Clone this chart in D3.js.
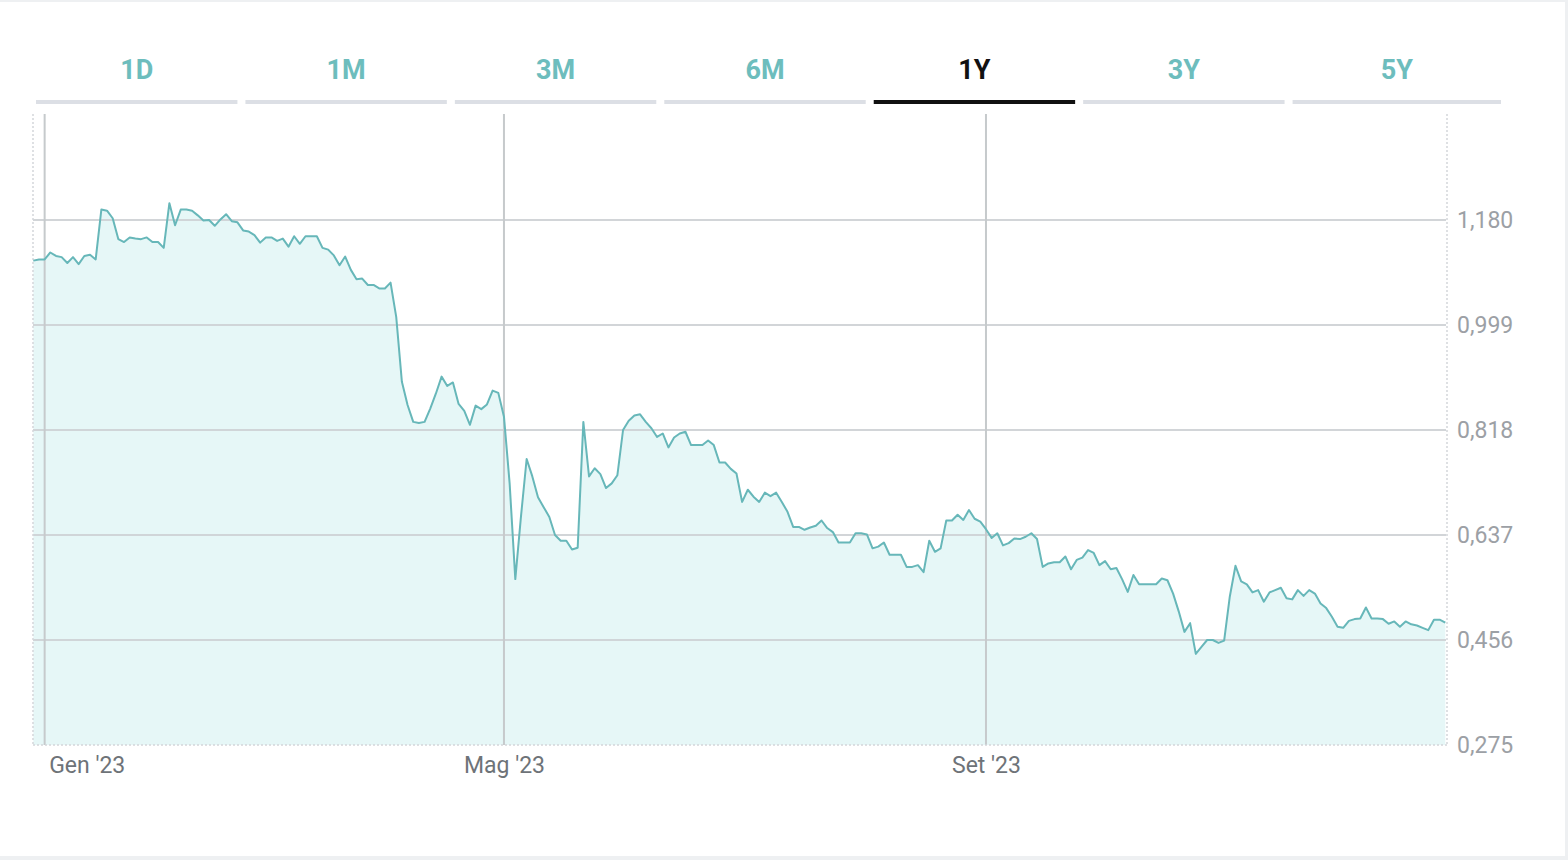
<!DOCTYPE html>
<html>
<head>
<meta charset="utf-8">
<title>1Y chart</title>
<script src="https://cdn.jsdelivr.net/npm/d3@7"></script>
<style>
  html, body { margin: 0; padding: 0; background: #eef0f2; }
  svg { display: block; }
  .tab-label { font-family: Roboto, "DejaVu Sans Condensed", sans-serif; font-weight: 700; font-size: 27px; }
  .y-axis text { font-family: Roboto, "DejaVu Sans Condensed", sans-serif; font-size: 23px; fill: #9ca0a5; }
  .x-axis text { font-family: Roboto, "DejaVu Sans Condensed", sans-serif; font-size: 23px; fill: #6e7378; }
</style>
</head>
<body>
<script>
  var w = 1568, h = 860;

  // tabs
  var tabs = ["1D", "1M", "3M", "6M", "1Y", "3Y", "5Y"];
  var activeTab = "1Y";

  // daily closes, one per trading day
  var values = [
    1.110, 1.112, 1.112, 1.124, 1.118, 1.116, 1.106, 1.116, 1.104, 1.118,
    1.120, 1.112, 1.198, 1.196, 1.183, 1.147, 1.142, 1.150, 1.148, 1.147,
    1.150, 1.142, 1.142, 1.132, 1.209, 1.171, 1.198, 1.198, 1.196, 1.188,
    1.179, 1.180, 1.170, 1.181, 1.190, 1.178, 1.176, 1.162, 1.160, 1.154,
    1.141, 1.150, 1.150, 1.144, 1.148, 1.134, 1.152, 1.139, 1.152, 1.152,
    1.152, 1.132, 1.129, 1.119, 1.102, 1.117, 1.094, 1.078, 1.079, 1.068,
    1.068, 1.062, 1.062, 1.072, 1.013, 0.901, 0.861, 0.832, 0.830, 0.832,
    0.855, 0.881, 0.910, 0.894, 0.900, 0.863, 0.851, 0.827, 0.860, 0.854,
    0.862, 0.886, 0.882, 0.841, 0.726, 0.561, 0.669, 0.768, 0.738, 0.702,
    0.685, 0.668, 0.637, 0.627, 0.627, 0.612, 0.615, 0.832, 0.738, 0.752,
    0.742, 0.718, 0.726, 0.740, 0.818, 0.834, 0.843, 0.845, 0.832, 0.821,
    0.806, 0.812, 0.788, 0.805, 0.812, 0.815, 0.792, 0.792, 0.792, 0.800,
    0.792, 0.762, 0.762, 0.751, 0.743, 0.694, 0.715, 0.703, 0.694, 0.710,
    0.704, 0.710, 0.694, 0.677, 0.651, 0.651, 0.646, 0.650, 0.653, 0.662,
    0.649, 0.642, 0.624, 0.624, 0.624, 0.640, 0.640, 0.638, 0.614, 0.617,
    0.624, 0.603, 0.603, 0.603, 0.582, 0.582, 0.585, 0.573, 0.627, 0.608,
    0.614, 0.662, 0.662, 0.672, 0.663, 0.680, 0.665, 0.660, 0.647, 0.632,
    0.640, 0.619, 0.623, 0.631, 0.630, 0.634, 0.640, 0.630, 0.582, 0.588,
    0.590, 0.590, 0.600, 0.578, 0.594, 0.598, 0.611, 0.606, 0.585, 0.592,
    0.578, 0.580, 0.561, 0.539, 0.568, 0.552, 0.552, 0.552, 0.552, 0.562,
    0.559, 0.536, 0.505, 0.470, 0.485, 0.432, 0.444, 0.456, 0.456, 0.451,
    0.455, 0.531, 0.584, 0.557, 0.552, 0.538, 0.542, 0.522, 0.538, 0.542,
    0.546, 0.528, 0.526, 0.542, 0.532, 0.542, 0.536, 0.519, 0.511, 0.496,
    0.479, 0.477, 0.489, 0.492, 0.493, 0.512, 0.493, 0.493, 0.492, 0.484,
    0.488, 0.479, 0.488, 0.483, 0.481, 0.477, 0.473, 0.491, 0.491, 0.486
  ];

  var yTicks = [0.275, 0.456, 0.637, 0.818, 0.999, 1.180];
  var yMax = 1.361;
  var xTickIdx = [2, 83, 168];
  var xTickLabels = ["Gen '23", "Mag '23", "Set '23"];

  var plot = { left: 33, right: 1447, top: 114, bottom: 745 };

  var itFmt = d3.formatLocale({ decimal: ",", thousands: ".", grouping: [3], currency: ["€", ""] }).format(".3f");

  var svg = d3.select("body").append("svg")
    .attr("width", w)
    .attr("height", h);

  // card
  svg.append("rect").attr("x", 0).attr("y", 0).attr("width", w).attr("height", h).attr("fill", "#eef0f2");
  svg.append("rect").attr("x", 0).attr("y", 2).attr("width", 1565).attr("height", 854).attr("fill", "#ffffff");

  // tabs
  var tabScale = d3.scaleBand()
    .domain(tabs)
    .range([36, 1494])
    .paddingInner(8 / 209)
    .paddingOuter(0);

  function tabWidth(d) {
    // the last tab stretches to the end of the strip
    return d === tabs[tabs.length - 1] ? 1501 - tabScale(d) : tabScale.bandwidth();
  }

  var tab = svg.append("g").attr("class", "tabs")
    .selectAll("g")
    .data(tabs)
    .enter().append("g");

  tab.append("rect")
    .attr("x", function (d) { return tabScale(d); })
    .attr("y", 100)
    .attr("width", tabWidth)
    .attr("height", 4)
    .attr("fill", function (d) { return d === activeTab ? "#111111" : "#dcdfe5"; });

  tab.append("text")
    .attr("class", "tab-label")
    .attr("x", function (d) { return tabScale(d) + tabWidth(d) / 2; })
    .attr("y", 79)
    .attr("text-anchor", "middle")
    .attr("fill", function (d) { return d === activeTab ? "#111111" : "#6dbdbd"; })
    .text(function (d) { return d; });

  // scales
  var xScale = d3.scaleLinear()
    .domain([0, values.length - 1])
    .range([33.3, 1445.3]);

  var yScale = d3.scaleLinear()
    .domain([yTicks[0], yMax])
    .range([plot.bottom, plot.top + 1]);

  // area
  var areaFun = d3.area()
    .x(function (d, i) { return xScale(i); })
    .y0(plot.bottom)
    .y1(function (d) { return yScale(d); });

  svg.append("path")
    .datum(values)
    .attr("d", areaFun)
    .attr("fill", "#e6f7f7");

  // horizontal grid
  svg.append("g")
    .attr("class", "y-grid")
    .selectAll("line")
    .data(yTicks.slice(1))
    .enter().append("line")
    .attr("x1", plot.left)
    .attr("x2", plot.right - 1)
    .attr("y1", function (d) { return yScale(d); })
    .attr("y2", function (d) { return yScale(d); })
    .attr("stroke", "#cdd0d4")
    .attr("stroke-width", 2)
    .attr("stroke-opacity", 0.9);

  // vertical grid
  svg.append("g")
    .attr("class", "x-grid")
    .selectAll("line")
    .data(xTickIdx)
    .enter().append("line")
    .attr("x1", function (d) { return xScale(d); })
    .attr("x2", function (d) { return xScale(d); })
    .attr("y1", plot.top)
    .attr("y2", plot.bottom)
    .attr("stroke", "#c6cacc")
    .attr("stroke-width", 2);

  // dotted frame
  var frame = [
    [plot.left, plot.top, plot.left, plot.bottom],
    [plot.left, plot.bottom, plot.right, plot.bottom],
    [plot.right, plot.top, plot.right, plot.bottom]
  ];
  svg.append("g").selectAll("line")
    .data(frame)
    .enter().append("line")
    .attr("x1", function (d) { return d[0]; })
    .attr("y1", function (d) { return d[1]; })
    .attr("x2", function (d) { return d[2]; })
    .attr("y2", function (d) { return d[3]; })
    .attr("stroke", "#d3d6da")
    .attr("stroke-width", 1.5)
    .attr("stroke-dasharray", "2,2");

  // line
  var lineFun = d3.line()
    .x(function (d, i) { return xScale(i); })
    .y(function (d) { return yScale(d); });

  svg.append("path")
    .datum(values)
    .attr("d", lineFun)
    .attr("fill", "none")
    .attr("stroke", "#67b7b9")
    .attr("stroke-width", 2)
    .attr("stroke-linejoin", "round");

  // axes
  var yAxis = d3.axisRight(yScale)
    .tickValues(yTicks)
    .tickSize(0)
    .tickPadding(10)
    .tickFormat(itFmt);

  var axisY = svg.append("g")
    .attr("class", "y-axis")
    .attr("transform", "translate(" + plot.right + ",0)")
    .call(yAxis);
  axisY.select(".domain").remove();

  var xAxis = d3.axisBottom(xScale)
    .tickValues(xTickIdx)
    .tickSize(0)
    .tickFormat(function (d, i) { return xTickLabels[i]; });

  var axisX = svg.append("g")
    .attr("class", "x-axis")
    .attr("transform", "translate(0," + plot.bottom + ")")
    .call(xAxis);
  axisX.select(".domain").remove();
  axisX.selectAll("text")
    .attr("y", 28)
    .attr("dy", null)
    .attr("text-anchor", function (d, i) { return i === 0 ? "start" : "middle"; })
    .attr("dx", function (d, i) { return i === 0 ? 4 : 0; });
</script>
</body>
</html>
